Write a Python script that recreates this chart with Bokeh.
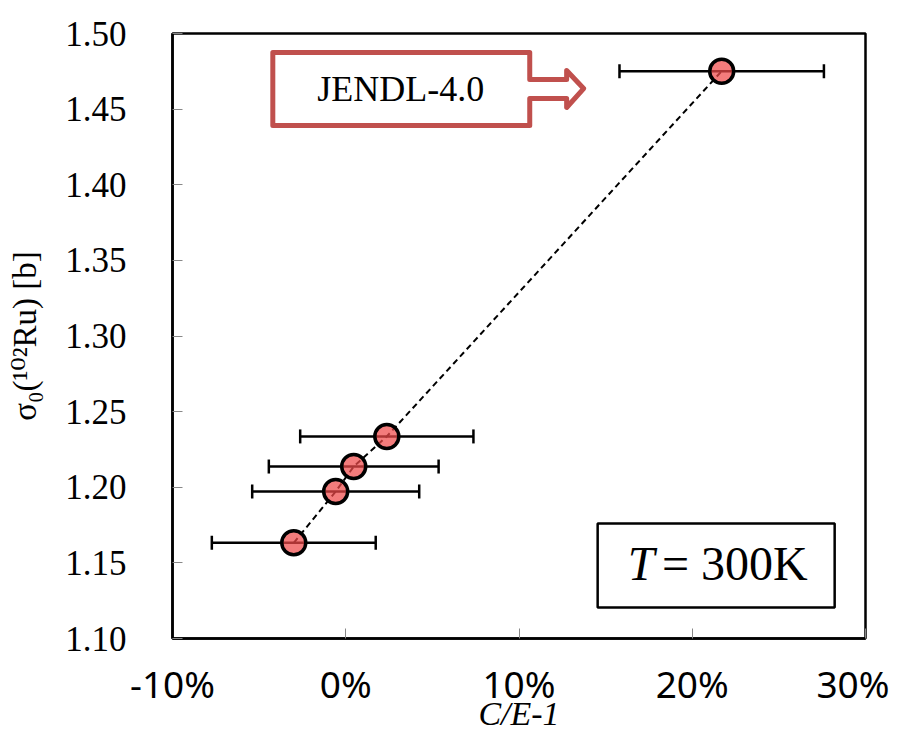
from bokeh.plotting import figure
from bokeh.models import (ColumnDataSource, Whisker, TeeHead, NumeralTickFormatter,
                          FixedTicker, Range1d, Label, BoxAnnotation, PolyAnnotation)
from bokeh.embed import file_html
from bokeh.resources import INLINE

# ---- data ----
ce_minus_1 = [-0.030, -0.0058, 0.0046, 0.0237, 0.217]     # C/E-1 (fraction)
ce_err = [0.0473, 0.0482, 0.0490, 0.0500, 0.0590]          # +/- uncertainty
sigma0 = [1.1633, 1.1972, 1.2137, 1.2336, 1.4751]          # sigma0(102Ru) [b]

x_ticks = [-0.10, 0.0, 0.10, 0.20, 0.30]
y_ticks = [1.10, 1.15, 1.20, 1.25, 1.30, 1.35, 1.40, 1.45, 1.50]

# callout arrow outline (data units)
arrow_x = [-0.0421, 0.1062, 0.1062, 0.1275, 0.1275, 0.1373, 0.1275, 0.1275, 0.1062, 0.1062, -0.0421]
arrow_y = [1.4874, 1.4874, 1.4696, 1.4696, 1.4755, 1.4636, 1.4511, 1.4570, 1.4570, 1.4392, 1.4392]

src = ColumnDataSource(dict(
    x=ce_minus_1, y=sigma0,
    lo=[a - b for a, b in zip(ce_minus_1, ce_err)],
    hi=[a + b for a, b in zip(ce_minus_1, ce_err)],
))

p = figure(width=889, height=735, output_backend="svg", toolbar_location=None,
           x_range=Range1d(-0.10, 0.30), y_range=Range1d(1.10, 1.50),
           min_border_left=172, min_border_right=24, min_border_top=33, min_border_bottom=97)
p.background_fill_color = "white"
p.border_fill_color = "white"
p.outline_line_color = "black"
p.outline_line_width = 2.5
p.xgrid.visible = False
p.ygrid.visible = False

# axes
p.xaxis.ticker = FixedTicker(ticks=x_ticks)
p.yaxis.ticker = FixedTicker(ticks=y_ticks)
p.xaxis.formatter = NumeralTickFormatter(format="0%")
p.yaxis.formatter = NumeralTickFormatter(format="0.00")
for ax in (p.xaxis, p.yaxis):
    ax.axis_line_color = "black"
    ax.axis_line_width = 2.5
    ax.major_tick_in = 10
    ax.major_tick_out = 0
    ax.major_tick_line_color = "#888888"
    ax.major_tick_line_width = 1
    ax.minor_tick_line_color = None
    ax.major_label_text_color = "black"

p.yaxis.major_label_text_font = "Liberation Serif"
p.yaxis.major_label_text_font_size = "35px"
p.yaxis.major_label_standoff = 46
p.yaxis.axis_label = "σ₀(¹⁰²Ru) [b]"
p.yaxis.axis_label_text_font = "'Liberation Serif', 'DejaVu Serif'"
p.yaxis.axis_label_text_font_style = "normal"
p.yaxis.axis_label_text_font_size = "33px"
p.yaxis.axis_label_text_color = "black"
p.yaxis.axis_label_standoff = 19

p.xaxis.major_label_text_font = "Noto Sans"
p.xaxis.major_label_text_font_size = "37px"
p.xaxis.major_label_standoff = 19
p.xaxis.axis_label = "C/E-1"
p.xaxis.axis_label_text_font = "Liberation Serif"
p.xaxis.axis_label_text_font_style = "italic"
p.xaxis.axis_label_text_font_size = "34px"
p.xaxis.axis_label_text_color = "black"
p.xaxis.axis_label_standoff = -17

# dashed trend line
p.line("x", "y", source=src, line_color="black", line_width=2, line_dash="6 4")

# error bars
wh = Whisker(base="y", lower="lo", upper="hi", dimension="width", source=src,
             line_color="black", line_width=2.5,
             lower_head=TeeHead(size=14, line_color="black", line_width=2.5),
             upper_head=TeeHead(size=14, line_color="black", line_width=2.5))
p.add_layout(wh)

# markers
p.scatter("x", "y", source=src, size=24, fill_color="#EE4A4A", fill_alpha=0.72,
          line_color="black", line_width=3.5)

# JENDL-4.0 callout
p.add_layout(PolyAnnotation(xs=arrow_x, ys=arrow_y, fill_color=None, fill_alpha=0,
                            line_color="#C0504D", line_alpha=1, line_width=5,
                            line_join="round"))
p.add_layout(Label(x=0.0318, y=1.4630, text="JENDL-4.0", text_font="Liberation Serif",
                   text_font_size="36px", text_align="center", text_baseline="alphabetic",
                   text_color="black"))

# T = 300K box
p.add_layout(BoxAnnotation(left=0.1454, right=0.2822, top=1.1760, bottom=1.1205,
                           fill_color="white", fill_alpha=1, line_color="black",
                           line_width=2.5, line_alpha=1))
p.add_layout(Label(x=0.1627, y=1.1495, text="T", text_font="Liberation Serif",
                   text_font_style="italic", text_font_size="48px", text_baseline="alphabetic",
                   text_align="left", text_color="black"))
p.add_layout(Label(x=0.1825, y=1.1495, text="= 300K", text_font="Liberation Serif",
                   text_font_size="48px", text_baseline="alphabetic", text_align="left",
                   text_color="black"))

open("out.html", "w").write(file_html(p, INLINE))
